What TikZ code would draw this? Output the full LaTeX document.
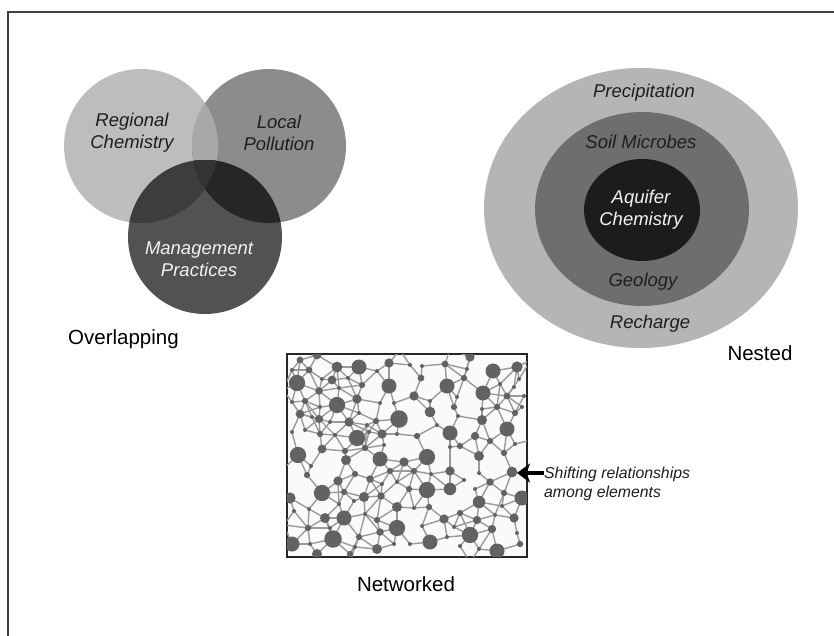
\documentclass[tikz,border=0pt]{standalone}
\usepackage{fontspec}
\setmainfont{Liberation Sans}
\usetikzlibrary{arrows.meta,shapes.geometric}
\definecolor{regc}{HTML}{BDBDBD}
\definecolor{locc}{HTML}{8C8C8C}
\definecolor{rlc}{HTML}{A9A9A9}
\definecolor{mgc}{HTML}{525252}
\definecolor{rmc}{HTML}{3D3D3D}
\definecolor{lmc}{HTML}{262626}
\definecolor{rlmc}{HTML}{333333}
\definecolor{outc}{HTML}{B5B5B5}
\definecolor{midc}{HTML}{6E6E6E}
\definecolor{innc}{HTML}{1C1C1C}
\definecolor{netgray}{HTML}{626262}
\definecolor{edgegray}{HTML}{9A9A9A}
\definecolor{txtdark}{HTML}{1E1E1E}
\definecolor{txtlight}{HTML}{F2F2F2}
\def\netlist{317/355/3.5, 300/360/2.7, 337/367/4.3, 359/367/6, 389/363/3.7, 309/370/2.7, 292/370/1.6, 297/383/6.5, 332/380/3.5, 348/378/1.6, 322/379/1.6, 377/371/1.6, 362/385/2.5, 389/386/6, 319/391/3, 339/388/1.6, 337/405/6.5, 357/399/3.7, 305/401/2.5, 292/402/1.6, 320/407/1.6, 380/403/1.6, 394/403/1.6, 300/414/3.5, 359/413/1.6, 399/419/7, 319/419/3.3, 312/417/1.6, 330/422/1.6, 349/422/3.7, 367/425/1.6, 376/421/2.5, 292/432/1.6, 320/434/2.5, 305/430/1.6, 335/435/1.6, 357/438/6.5, 382/434/3.7, 369/432/1.6, 397/434/1.6, 322/449/3.5, 298/455/6.5, 345/451/2.5, 365/448/2.5, 384/445/1.6,
470/357/3.7, 445/364/2.7, 422/366/1.6, 410/365/1.6, 493/371/6, 517/367/4.5, 467/369/1.6, 464/378/2.5, 421/378/2.7, 447/386/6, 457/397/1.6, 430/401/1.6, 500/384/1.6, 519/379/1.6, 514/387/1.6, 483/393/6, 507/396/2.7, 414/396/3.7, 524/396/1.6, 454/407/2.5, 497/407/2.5, 522/407/1.6, 430/412/4.3, 458/416/1.6, 482/409/1.6, 515/413/2.5, 482/420/4, 437/425/1.6, 507/429/6, 417/436/2.5, 450/433/6, 475/436/3.3, 490/441/2.5, 515/444/1.6, 460/446/2.5, 450/447/1.6, 427/457/6.5, 479/456/4, 504/453/2.5,
346/460/4, 380/459/6, 404/462/3.7, 311/466/1.6, 307/475/2.5, 338/481/3.7, 355/474/2.5, 370/479/3, 390/471/2.5, 397/482/1.6, 382/484/1.6, 322/493/6.5, 344/492/2.5, 290/498/4.5, 364/497/4, 381/496/3, 354/501/1.6, 397/507/4, 339/504/1.6, 309/509/1.6, 294/511/1.6, 325/518/4, 344/518/6, 365/514/1.6, 377/520/2.5, 397/528/6.5, 308/528/2.5, 330/528/1.6, 380/532/3, 359/537/2.5, 333/539/7, 292/544/6, 310/544/1.6, 355/547/1.6, 377/549/4, 317/554/4, 394/544/1.6, 350/554/2.5,
450/471/3.7, 414/471/2.5, 431/474/1.6, 479/473/1.6, 512/472/4.3, 490/482/3, 464/480/1.6, 427/490/6.5, 450/489/5, 409/489/2.5, 475/489/1.6, 504/493/2.5, 522/498/6, 479/502/5, 429/507/2.5, 414/508/1.6, 460/513/2.5, 502/506/1.6, 444/519/3.7, 514/518/3.7, 477/520/3.3, 495/515/1.6, 422/526/1.6, 492/529/3.3, 454/527/1.6, 470/535/6.5, 517/533/1.6, 430/542/6, 447/537/1.6, 460/546/1.6, 497/551/6, 520/544/2.5, 479/549/1.6, 410/544/1.6,
283/390/3, 282/470/3, 284/525/3, 532/440/3, 533/500/3, 400/350/3, 450/349/3, 350/562/3, 470/562/3, 531/360/3}
\begin{document}
\begin{tikzpicture}[x=1pt,y=-1pt,
  lbl/.style={font=\fontsize{18.5}{22}\selectfont\itshape, align=center, inner sep=0pt},
  caption/.style={font=\fontsize{20.5}{24}\selectfont, inner sep=0pt, text=black},
  disc/.style={circle, draw=none, inner sep=0pt, minimum size=154pt},
  oval/.style={ellipse, draw=none, inner sep=0pt},
  netdot/.style={circle, fill=netgray, inner sep=0pt, draw=none},
  netedge/.style={draw=edgegray, line width=1.4pt},
  bigarrow/.style={line width=4.5pt, -{Stealth[length=13pt,width=19pt,inset=3.5pt]}},
  note/.style={font=\fontsize{15.8}{18.5}\selectfont\itshape, align=left, inner sep=0pt, text=txtdark}]
\useasboundingbox (0,0) rectangle (834,636);
\fill[white] (0,0) rectangle (834,636);
\draw[line width=1.3pt, color=black!75] (8,636) -- (8,12) -- (834,12);

% Overlapping
\node[disc, fill=regc] (regional) at (141,146) {};
\node[disc, fill=locc] (local) at (269,146) {};
\begin{scope}
  \clip (141,146) circle (77pt);
  \fill[rlc] (269,146) circle (77pt);
\end{scope}
\node[disc, fill=mgc] (mgmt) at (205,237) {};
\begin{scope}
  \clip (205,237) circle (77pt);
  \fill[rmc] (141,146) circle (77pt);
  \fill[lmc] (269,146) circle (77pt);
  \begin{scope}
    \clip (141,146) circle (77pt);
    \fill[rlmc] (269,146) circle (77pt);
  \end{scope}
\end{scope}
\node[lbl, text=txtdark] (tregional) at (132,133) {Regional\\Chemistry};
\node[lbl, text=txtdark] (tlocal) at (279,133) {Local\\Pollution};
\node[lbl, text=txtlight] (tmgmt) at (199,259) {Management\\Practices};
\node[caption, anchor=west] (overlapping) at (68,339) {Overlapping};

% Nested
\node[oval, fill=outc, minimum width=314pt, minimum height=280pt] (outer) at (641,208) {};
\node[oval, fill=midc, minimum width=214pt, minimum height=194pt] (middle) at (642,209) {};
\node[oval, fill=innc, minimum width=116pt, minimum height=102pt] (inner) at (642,210) {};
\node[lbl, text=txtdark] (tprec) at (644,93) {Precipitation};
\node[lbl, text=txtdark] (tsoil) at (641,142) {Soil Microbes};
\node[lbl, text=txtlight] (taquifer) at (641,210) {Aquifer\\Chemistry};
\node[lbl, text=txtdark] (tgeo) at (643,282) {Geology};
\node[lbl, text=txtdark] (trech) at (650,324) {Recharge};
\node[caption] (nested) at (760,353) {Nested};

% Networked
\node[draw=black!85, line width=1.3pt, fill=white!98!black, minimum width=240pt, minimum height=203pt, inner sep=0pt] (netbox) at (407,455.5) {};
\begin{scope}
  \clip (287,354) rectangle (527,557);
  \foreach \xa/\ya/\ra [count=\i] in \netlist {\coordinate (n\i) at (\xa,\ya);}
  \foreach \xa/\ya/\ra [count=\i] in \netlist {
    \foreach \xb/\yb/\rb [count=\j] in \netlist {
      \ifnum\j>\i
        \ifnum\numexpr(\xb-\xa)*(\xb-\xa)+(\yb-\ya)*(\yb-\ya)\relax<600
          \ifdim\ra pt<2pt
            \ifdim\rb pt<2pt\else\draw[netedge] (n\i) -- (n\j);\fi
          \else
            \draw[netedge] (n\i) -- (n\j);
          \fi
        \fi
      \fi
    }
  }
  \foreach \xa/\ya/\ra [count=\i] in \netlist {\node[netdot, minimum size={2.5*\ra*1pt}] (d\i) at (n\i) {};}
\end{scope}
\draw[draw=black!85, line width=1.3pt] (netbox.north west) rectangle (netbox.south east);
\node[caption] (networked) at (406,584) {Networked};

% Annotation
\node[note, anchor=west] (shift) at (544,484) {Shifting relationships\\among elements};
\coordinate (arrowtip) at (517,473);
\draw[bigarrow] (arrowtip -| shift.west) -- (arrowtip);
\end{tikzpicture}
\end{document}
